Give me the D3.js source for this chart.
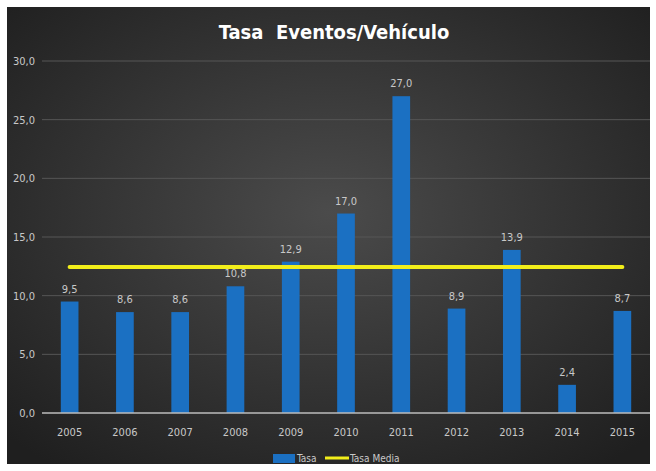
<!DOCTYPE html>
<html>
<head>
<meta charset="utf-8">
<script src="https://cdn.jsdelivr.net/npm/d3@7"></script>
<style>
  body { margin: 0; background: #fff; }
  text { font-family: "DejaVu Sans", sans-serif; font-stretch: condensed; }
</style>
</head>
<body>
<div id="chart"></div>
<script>
var years = ["2005", "2006", "2007", "2008", "2009", "2010", "2011", "2012", "2013", "2014", "2015"];
var tasa = [9.5, 8.6, 8.6, 10.8, 12.9, 17.0, 27.0, 8.9, 13.9, 2.4, 8.7];
var tasaMedia = [12.45, 12.45, 12.45, 12.45, 12.45, 12.45, 12.45, 12.45, 12.45, 12.45, 12.45];
var yTicks = [0, 5, 10, 15, 20, 25, 30];

// dimensions
var W = 656, H = 471;
var margin = { top: 61, right: 6, bottom: 58, left: 42 };

var svg = d3.select("#chart").append("svg")
    .attr("width", W).attr("height", H);

var defs = svg.append("defs");
var grad = defs.append("radialGradient").attr("id", "bg")
    .attr("cx", "50%").attr("cy", "45%").attr("r", "70%");
grad.append("stop").attr("offset", "0%").attr("stop-color", "#4b4b4b");
grad.append("stop").attr("offset", "100%").attr("stop-color", "#1f1f1f");

svg.append("rect")
    .attr("x", 7).attr("y", 7).attr("width", 643).attr("height", 457)
    .attr("fill", "url(#bg)");

var fmt = function (v) { return d3.format(".1f")(v).replace(".", ","); };

var x = d3.scaleBand()
    .domain(years)
    .range([margin.left, W - margin.right])
    .paddingInner(0.68)
    .paddingOuter(0.34);

var y = d3.scaleLinear()
    .domain([0, 30])
    .range([H - margin.bottom, margin.top]);

// gridlines
svg.append("g")
    .selectAll("line")
    .data(yTicks.slice(1))
    .enter().append("line")
    .attr("x1", margin.left).attr("x2", W - margin.right)
    .attr("y1", function (d) { return y(d); })
    .attr("y2", function (d) { return y(d); })
    .attr("stroke", "#565656").attr("stroke-width", 1);

// y labels
svg.append("g")
    .selectAll("text")
    .data(yTicks)
    .enter().append("text")
    .attr("x", 35)
    .attr("y", function (d) { return y(d) + 4; })
    .attr("text-anchor", "end")
    .attr("fill", "#c8c8c8")
    .attr("font-size", 11)
    .text(fmt);

// bars
svg.append("g")
    .selectAll("rect")
    .data(tasa)
    .enter().append("rect")
    .attr("x", function (d, i) { return x(years[i]); })
    .attr("width", x.bandwidth())
    .attr("y", function (d) { return y(d); })
    .attr("height", function (d) { return y(0) - y(d); })
    .attr("fill", "#1b70c2");

// axis line
svg.append("line")
    .attr("x1", margin.left).attr("x2", W - margin.right)
    .attr("y1", y(0)).attr("y2", y(0))
    .attr("stroke", "#bdbdbd").attr("stroke-width", 1.5);

// year labels
svg.append("g")
    .selectAll("text")
    .data(years)
    .enter().append("text")
    .attr("x", function (d) { return x(d) + x.bandwidth() / 2; })
    .attr("y", y(0) + 23)
    .attr("text-anchor", "middle")
    .attr("fill", "#c8c8c8")
    .attr("font-size", 11)
    .text(function (d) { return d; });

// value labels
svg.append("g")
    .selectAll("text")
    .data(tasa)
    .enter().append("text")
    .attr("x", function (d, i) { return x(years[i]) + x.bandwidth() / 2; })
    .attr("y", function (d) { return y(d) - 9; })
    .attr("text-anchor", "middle")
    .attr("fill", "#c8c8c8")
    .attr("font-size", 11)
    .text(fmt);

// mean line
var line = d3.line()
    .x(function (d, i) { return x(years[i]) + x.bandwidth() / 2; })
    .y(function (d) { return y(d); });

svg.append("path")
    .datum(tasaMedia)
    .attr("d", line)
    .attr("fill", "none")
    .attr("stroke", "#f2ee1a")
    .attr("stroke-width", 4)
    .attr("stroke-linecap", "round");

// title
svg.append("text")
    .attr("x", 334).attr("y", 39)
    .attr("text-anchor", "middle")
    .attr("fill", "#ffffff")
    .attr("font-size", 20)
    .attr("font-weight", "bold")
    .attr("xml:space", "preserve")
    .text("Tasa  Eventos/Vehículo");

// legend
var lg = svg.append("g");
lg.append("rect").attr("x", 273).attr("y", 454).attr("width", 22).attr("height", 9).attr("fill", "#1b70c2");
lg.append("text").attr("x", 297).attr("y", 462).attr("fill", "#c8c8c8").attr("font-size", 10).text("Tasa");
lg.append("line").attr("x1", 325).attr("x2", 349).attr("y1", 458).attr("y2", 458)
    .attr("stroke", "#f2ee1a").attr("stroke-width", 3);
lg.append("text").attr("x", 350).attr("y", 462).attr("fill", "#c8c8c8").attr("font-size", 10).text("Tasa Media");
</script>
</body>
</html>
